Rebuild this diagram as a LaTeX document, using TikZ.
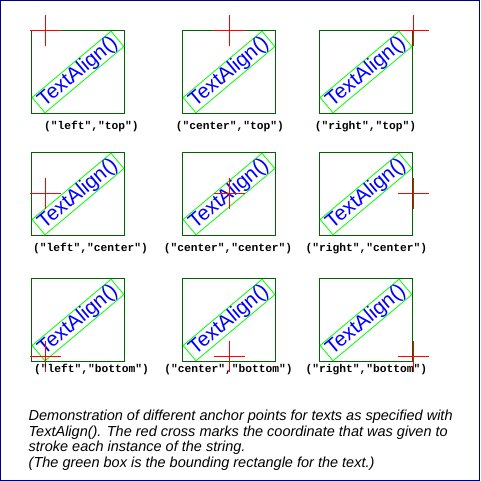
\documentclass[tikz,border=0pt]{standalone}
\usepackage{fontspec}
\setmainfont{Liberation Sans}
\setmonofont{Liberation Mono}
\definecolor{framenavy}{RGB}{0,0,128}
\definecolor{boxgreen}{RGB}{0,100,0}
\definecolor{rectgreen}{RGB}{0,255,0}
\definecolor{txtblue}{RGB}{0,0,255}
\definecolor{crossred}{RGB}{255,0,0}
\tikzset{
  panelbox/.style={draw=boxgreen, line width=1pt, minimum width=93pt, minimum height=83pt, inner sep=0pt},
  textrect/.style={draw=rectgreen, line width=0.8pt, rotate=40, minimum width=103pt, minimum height=20pt, inner sep=0pt, text=txtblue, font=\fontsize{20.5}{22}\selectfont},
  crossline/.style={draw=crossred, line width=1.1pt},
  lab/.style={anchor=base, inner sep=0pt, font=\ttfamily\bfseries\fontsize{11.25}{13}\selectfont},
  caption/.style={anchor=base west, inner sep=0pt, font=\itshape\fontsize{14.5}{16}\selectfont}
}
\begin{document}
\begin{tikzpicture}[x=1pt,y=-1pt]
\useasboundingbox (0,0) rectangle (480,481);
\fill[white] (0,0) rectangle (480,481);
\draw[framenavy, line width=1pt] (0.5,0.5) rectangle (479.5,480.5);
% panels: column centres 78, 229, 366 ; row centres 72, 194, 320
\foreach \c/\bx/\ax in {1/78/45.5, 2/229/229.5, 3/366/413.5}{
  \foreach \r/\by/\ay in {1/72/30.5, 2/194/193.5, 3/320/356.5}{
    \node[panelbox] (box\c\r) at (\bx,\by) {};
    \node[textrect] (txt\c\r) at (box\c\r.center) {TextAlign()};
    \coordinate (anc\c\r) at (\ax,\ay);
    \draw[crossline] (anc\c\r) ++(-15.5,0) -- ++(31,0);
    \draw[crossline] (anc\c\r) ++(0,-15.5) -- ++(0,31);
  }
}
\node[lab] (lab11) at (91.5,129.2) {("left","top")};
\node[lab] (lab21) at (230,129.2) {("center","top")};
\node[lab] (lab31) at (365.5,129.2) {("right","top")};
\node[lab] (lab12) at (90.5,251.5) {("left","center")};
\node[lab] (lab22) at (228,251.5) {("center","center")};
\node[lab] (lab32) at (366.5,251.5) {("right","center")};
\node[lab] (lab13) at (91.5,372.8) {("left","bottom")};
\node[lab] (lab23) at (228.5,372.8) {("center","bottom")};
\node[lab] (lab33) at (366.5,372.8) {("right","bottom")};
\node[caption] (cap1) at (28.5,420.5) {Demonstration of different anchor points for texts as specified with};
\node[caption] (cap2) at (28.5,436.2) {TextAlign(). The red cross marks the coordinate that was given to};
\node[caption] (cap3) at (28.5,451.9) {stroke each instance of the string.};
\node[caption] (cap4) at (28.5,467.6) {(The green box is the bounding rectangle for the text.)};
\end{tikzpicture}
\end{document}
